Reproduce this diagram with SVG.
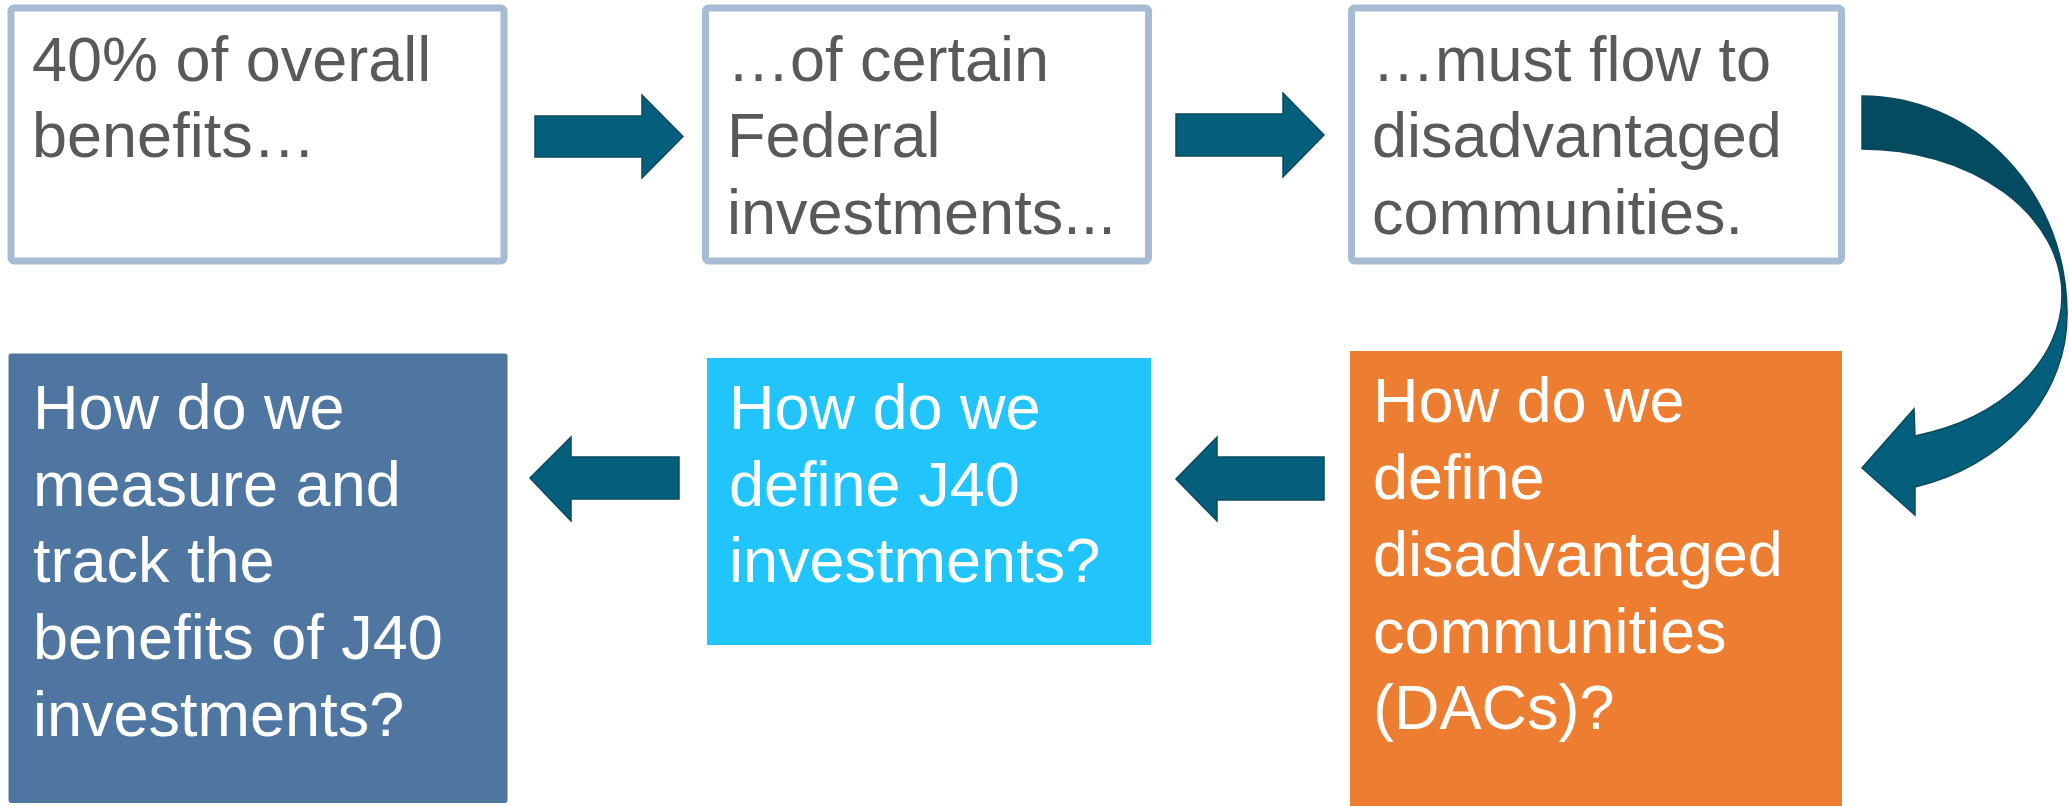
<svg xmlns="http://www.w3.org/2000/svg" width="2069" height="806" viewBox="0 0 2069 806">
<style>
.frame{fill:#FFFFFF;stroke:#A7BCD2;stroke-width:7}
.t{font-family:"Liberation Sans",Arial,sans-serif;font-size:63px}
.gray{fill:#595959}
.white{fill:#FFFFFF}
.arr{fill:#035F7C;stroke:#0B4A5E;stroke-width:1.5;stroke-linejoin:miter}
.arrDark{fill:#044B61;stroke:#0B4A5E;stroke-width:1.5}
</style>
<rect width="2069" height="806" fill="#FFFFFF"/>
<g id="n1">
<rect class="frame" x="11" y="8" width="493" height="253" rx="3"/>
<text class="t gray" x="32" y="81">40% of overall</text>
<text class="t gray" x="32" y="157">benefits…</text>
</g>
<g id="n2">
<rect class="frame" x="705.5" y="8" width="443" height="253" rx="3"/>
<text class="t gray" x="727" y="81">…of certain</text>
<text class="t gray" x="727" y="157">Federal</text>
<text class="t gray" x="727" y="234">investments...</text>
</g>
<g id="n3">
<rect class="frame" x="1351.5" y="8" width="490" height="253" rx="3"/>
<text class="t gray" x="1372" y="81">…must flow to</text>
<text class="t gray" x="1372" y="157">disadvantaged</text>
<text class="t gray" x="1372" y="234">communities.</text>
</g>
<g id="n4">
<rect x="8.5" y="353.5" width="499" height="449.5" rx="3" fill="#4E76A1"/>
<text class="t white" x="33" y="429">How do we</text>
<text class="t white" x="33" y="506">measure and</text>
<text class="t white" x="33" y="582">track the</text>
<text class="t white" x="33" y="659">benefits of J40</text>
<text class="t white" x="33" y="736">investments?</text>
</g>
<g id="n5">
<rect x="707" y="358" width="444" height="287" fill="#21C5FB"/>
<text class="t white" x="729" y="429">How do we</text>
<text class="t white" x="729" y="506">define J40</text>
<text class="t white" x="729" y="582">investments?</text>
</g>
<g id="n6">
<rect x="1350" y="351" width="492" height="455" fill="#ED7D31"/>
<text class="t white" x="1373" y="422">How do we</text>
<text class="t white" x="1373" y="499">define</text>
<text class="t white" x="1373" y="576">disadvantaged</text>
<text class="t white" x="1373" y="653">communities</text>
<text class="t white" x="1373" y="729">(DACs)?</text>
</g>
<g id="connectors">
<path class="arr" d="M535,116 H642 V95 L683,136.5 L642,178 V157 H535 Z"/>
<path class="arr" d="M1176,114 H1283 V93 L1324,135 L1283,177 V156 H1176 Z"/>
<path class="arrDark" d="M1862,96 A205,217 0 0 1 2067,313 L2062,295 A200,146 0 0 0 1862,149 Z"/>
<path class="arr" d="M2067,313 A205,178 0 0 1 1915,487 L1915,515 L1862,468 L1914,409 L1915,436 A200,146 0 0 0 2062,295 Z"/>
<path class="arr" d="M1324,457 H1217 V437 L1176,479 L1217,521 V500 H1324 Z"/>
<path class="arr" d="M679,457 H571 V437 L530,478 L571,521 V499 H679 Z"/>
</g>
</svg>
